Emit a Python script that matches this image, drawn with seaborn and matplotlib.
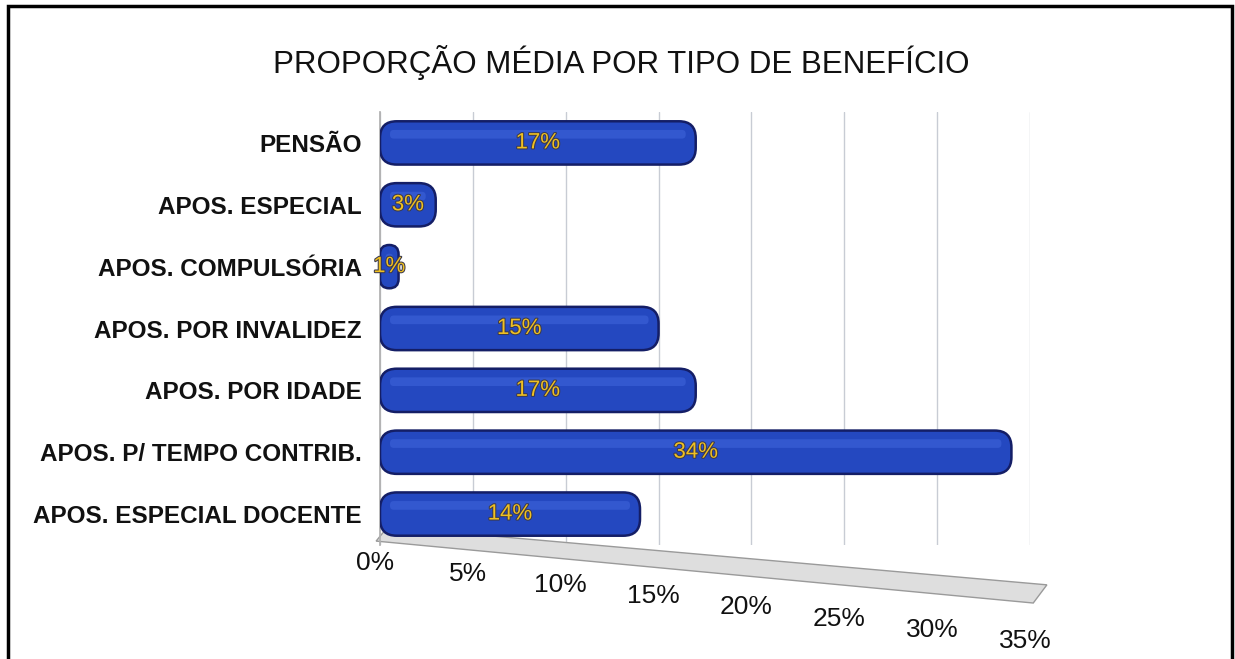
import matplotlib
matplotlib.use("Agg")
import matplotlib.pyplot as plt
import matplotlib.transforms as mtransforms
import matplotlib.patheffects as pe
from matplotlib.patches import Rectangle, Polygon, FancyBboxPatch
import seaborn as sns
import pandas as pd

categories = ["PENSÃO", "APOS. ESPECIAL", "APOS. COMPULSÓRIA", "APOS. POR INVALIDEZ",
              "APOS. POR IDADE", "APOS. P/ TEMPO CONTRIB.", "APOS. ESPECIAL DOCENTE"]
values = [17, 3, 1, 15, 17, 34, 14]
value_labels = ["17%", "3%", "1%", "15%", "17%", "34%", "14%"]
tick_values = [0, 5, 10, 15, 20, 25, 30, 35]
tick_labels = ["0%", "5%", "10%", "15%", "20%", "25%", "30%", "35%"]
title = "PROPORÇÃO MÉDIA POR TIPO DE BENEFÍCIO"

df = pd.DataFrame({"cat": categories, "val": values})

sns.set_theme(style="white")
plt.rcParams["font.family"] = ["Liberation Sans", "DejaVu Sans"]

W, H = 1235, 659
fig = plt.figure(figsize=(W / 100, H / 100), dpi=100)
ax = fig.add_axes([380 / W, 1 - 545 / H, (1030 - 380) / W, (545 - 112) / H])

sns.barplot(data=df, y="cat", x="val", orient="h", color="#2448c0", saturation=1,
            width=0.7, edgecolor="#16226e", linewidth=1.5, ax=ax, zorder=3)

# turn the flat bars into rounded "cylinder" bars using the barplot geometry
bars = list(ax.patches)
for p in bars:
    x, y, w, h = p.get_x(), p.get_y(), p.get_width(), p.get_height()
    r = min(0.9, w / 2)
    fb = FancyBboxPatch((x, y), w, h, boxstyle=f"round,pad=0,rounding_size={r}",
                        mutation_aspect=0.3, facecolor="#2448c0",
                        edgecolor="#141e66", linewidth=1.8, zorder=3)
    ax.add_patch(fb)
    # subtle highlight stripe
    hl = FancyBboxPatch((x + r * 0.6, y + h * 0.2), max(w - r * 1.2, 0.01), h * 0.2,
                        boxstyle="round,pad=0,rounding_size=0.2", mutation_aspect=0.3,
                        facecolor="#4066dc", edgecolor="none", alpha=0.55, zorder=3.5)
    ax.add_patch(hl)
    p.set_visible(False)

ax.set_xlim(0, 35)
ax.set_xticks(tick_values)
ax.set_xticklabels(tick_labels, fontsize=19)
ax.set_xlabel("")
ax.set_ylabel("")
for lab in ax.get_yticklabels():
    lab.set_fontweight("bold")
    lab.set_fontsize(17.5)
    lab.set_color("#111111")
ax.tick_params(axis="y", length=0, pad=13)
ax.tick_params(axis="x", length=0, pad=4)

# stagger x tick labels like the perspective view
for i, lab in enumerate(ax.get_xticklabels()):
    off = mtransforms.ScaledTranslation(-0.05, -0.112 * i, fig.dpi_scale_trans)
    lab.set_transform(lab.get_transform() + off)
    lab.set_color("#111111")

ax.grid(axis="x", color="#c8ccd4", linewidth=1, zorder=0)
for s in ["top", "right", "bottom"]:
    ax.spines[s].set_visible(False)
ax.spines["left"].set_color("#b0b0b0")

for p, t in zip(bars, value_labels):
    cx = p.get_x() + p.get_width() / 2
    cy = p.get_y() + p.get_height() / 2
    ax.text(cx, cy, t, ha="center", va="center", fontsize=16, color="#f0c020",
            zorder=5, path_effects=[pe.withStroke(linewidth=1.5, foreground="#3a3a50")])

# floor
floor = Polygon([(0.012, 0.042), (1.026, -0.092), (1.005, -0.134), (-0.006, 0.009)],
                closed=True, transform=ax.transAxes, facecolor="#dedede",
                edgecolor="#9a9a9a", linewidth=1, clip_on=False, zorder=1)
ax.add_patch(floor)

fig.text(621 / W, 1 - 62 / H, title, ha="center", va="center", fontsize=22.5, color="#111111")

fig.add_artist(Rectangle((8 / W, -0.05), (1232 - 8) / W, 1.05 - 6 / H,
                         transform=fig.transFigure, fill=False,
                         edgecolor="black", linewidth=2.5))

fig.savefig("out.png", dpi=100)
